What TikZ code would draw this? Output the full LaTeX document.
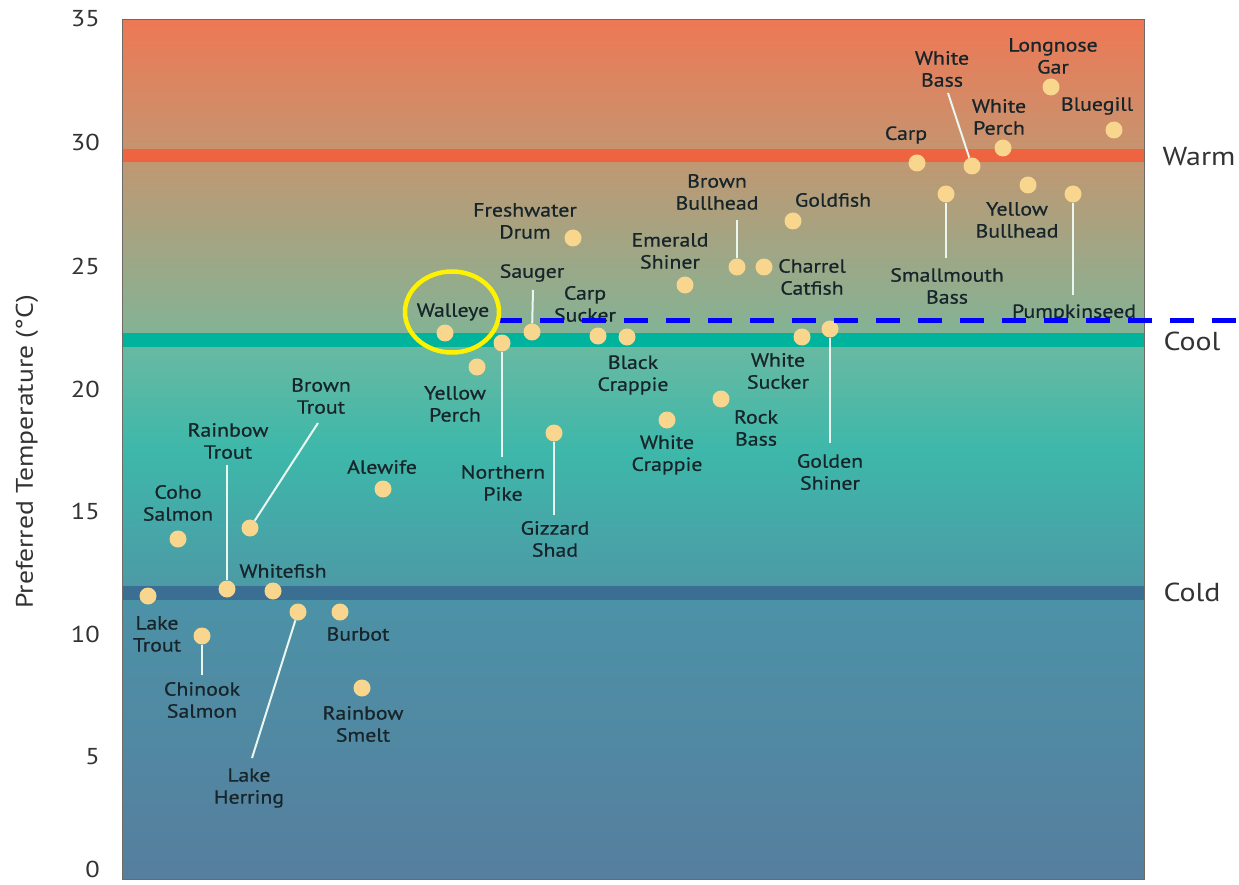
\documentclass[tikz,border=0pt]{standalone}
\usepackage{fontspec}
\usetikzlibrary{shapes.geometric}
\setmainfont{PT Sans}
\newfontfamily\ptwide[FakeStretch=1.15]{PT Sans}
\newfontfamily\ptwidebold[FakeStretch=1.15,FakeBold=0.7]{PT Sans}
\newcommand\mylabfont{\ptwidebold\fontsize{19}{22}\selectfont}
\newcommand\mytickfont{\ptwide\fontsize{23}{26}\selectfont}
\newcommand\myzonefont{\ptwide\fontsize{26}{30}\selectfont}
\newcommand\myaxfont{\ptwide\fontsize{24}{27}\selectfont}
\definecolor{gTop}{HTML}{EE7855}
\definecolor{gW1}{HTML}{C6946F}
\definecolor{warmband}{HTML}{EE6340}
\definecolor{gW2}{HTML}{BF9873}
\definecolor{gC1}{HTML}{83B395}
\definecolor{coolband}{HTML}{00B39C}
\definecolor{gC2}{HTML}{68B9A2}
\definecolor{gC3}{HTML}{3DB8AA}
\definecolor{gC4}{HTML}{4D9AA6}
\definecolor{coldband}{HTML}{3A6F93}
\definecolor{gD1}{HTML}{4C92A7}
\definecolor{gD2}{HTML}{567E9D}
\definecolor{dotcol}{HTML}{F8D68E}
\definecolor{labcol}{HTML}{17252A}
\definecolor{axcol}{HTML}{333333}
\definecolor{leadcol}{HTML}{EAF6F0}
\definecolor{framecol}{HTML}{6E6A66}
\definecolor{ringcol}{HTML}{FFF200}
\definecolor{dashcol}{HTML}{0000FF}
\tikzset{
  dot/.style={circle, fill=dotcol, minimum size=17pt, inner sep=0pt},
  lab/.style={font=\mylabfont, text=labcol, align=center, inner sep=0pt},
  leader/.style={draw=leadcol, line width=2pt},
  ticklab/.style={font=\mytickfont, text=axcol, anchor=east, inner sep=0pt},
  zonelab/.style={font=\myzonefont, text=axcol, inner sep=0pt},
  band/.style={fill=#1},
  ring/.style={ellipse, draw=ringcol, line width=4.5pt, minimum width=94pt, minimum height=81pt, inner sep=0pt},
  bluedash/.style={draw=dashcol, line width=4.5pt, dash pattern=on 24pt off 18pt}
}
\begin{document}
\begin{tikzpicture}[x=1pt,y=-1pt]
\useasboundingbox (0,0) rectangle (1239,885);
\fill[white] (0,0) rectangle (1239,885);
% background gradient
\fill[top color=gTop, bottom color=gW1] (122,20) rectangle (1144,149.5);
\fill[band=warmband] (122,149) rectangle (1144,163);
\fill[top color=gW2, bottom color=gC1] (122,162.5) rectangle (1144,333.5);
\fill[band=coolband] (122,333) rectangle (1144,348);
\fill[top color=gC2, bottom color=gC3] (122,347.5) rectangle (1144,450.5);
\fill[top color=gC3, bottom color=gC4] (122,450) rectangle (1144,586.5);
\fill[band=coldband] (122,586) rectangle (1144,601);
\fill[top color=gD1, bottom color=gD2] (122,600.5) rectangle (1144,879);
\draw[framecol, line width=1pt] (122,20) rectangle (1144,879);
% axis tick labels
\node[ticklab] (t35) at (100,19) {35};
\node[ticklab] (t30) at (100,142) {30};
\node[ticklab] (t25) at (100,266) {25};
\node[ticklab] (t20) at (100,389) {20};
\node[ticklab] (t15) at (100,511) {15};
\node[ticklab] (t10) at (100,634) {10};
\node[ticklab] (t5) at (100,757) {5};
\node[ticklab] (t0) at (100,869) {0};
\node[font=\myaxfont, text=axcol, rotate=90, inner sep=0pt] (ylab) at (27,452) {Preferred Temperature (°C)};
% zone labels
\node[zonelab] (zwarm) at (1199,157) {Warm};
\node[zonelab] (zcool) at (1192,341) {Cool};
\node[zonelab] (zcold) at (1192,592) {Cold};
% dashed marker line
\coordinate (dashA) at (498,320.5);
\coordinate (dashB) at (1239,320.5);
% dots
\node[dot] (laketrout) at (148,596) {};
\node[dot] (coho) at (178,539) {};
\node[dot] (chinook) at (202,636) {};
\node[dot] (rainbowtrout) at (227,589) {};
\node[dot] (browntrout) at (250,528) {};
\node[dot] (whitefish) at (273,591) {};
\node[dot] (lakeherring) at (298,612) {};
\node[dot] (burbot) at (340,612) {};
\node[dot] (smelt) at (362,688) {};
\node[dot] (alewife) at (383,489) {};
\node[dot] (walleye) at (445,333) {};
\node[dot] (yperch) at (477,367) {};
\node[dot] (npike) at (502,343) {};
\node[dot] (sauger) at (532,332) {};
\node[dot] (drum) at (573,238) {};
\node[dot] (gizzard) at (554,433) {};
\node[dot] (carpsucker) at (598,336) {};
\node[dot] (bcrappie) at (627,337) {};
\node[dot] (wcrappie) at (667,420) {};
\node[dot] (eshiner) at (685,285) {};
\node[dot] (rockbass) at (721,399) {};
\node[dot] (bbullhead) at (737,267) {};
\node[dot] (catfish) at (764,267) {};
\node[dot] (goldfish) at (793,221) {};
\node[dot] (wsucker) at (802,337) {};
\node[dot] (gshiner) at (830,329) {};
\node[dot] (carp) at (917,163) {};
\node[dot] (wbass) at (972,166) {};
\node[dot] (smbass) at (946,194) {};
\node[dot] (wperch) at (1003,148) {};
\node[dot] (ybullhead) at (1028,185) {};
\node[dot] (gar) at (1051,87) {};
\node[dot] (bluegill) at (1114,130) {};
\node[dot] (pumpkin) at (1073,194) {};
% leader ends
\coordinate (e-chinook) at (202,675);
\coordinate (e-rainbowtrout) at (227,465);
\coordinate (e-browntrout) at (318,423);
\coordinate (e-lakeherring) at (252,758);
\coordinate (e-npike) at (502,457);
\coordinate (e-sauger) at (533,290);
\coordinate (e-gizzard) at (554,515);
\coordinate (e-bbullhead) at (737,220);
\coordinate (e-gshiner) at (830,443);
\coordinate (e-wbass) at (948,93);
\coordinate (e-smbass) at (946,258);
\coordinate (e-pumpkin) at (1073,295);
\draw[leader] (chinook) -- (e-chinook);
\draw[leader] (rainbowtrout) -- (e-rainbowtrout);
\draw[leader] (browntrout) -- (e-browntrout);
\draw[leader] (lakeherring) -- (e-lakeherring);
\draw[leader] (npike) -- (e-npike);
\draw[leader] (sauger) -- (e-sauger);
\draw[leader] (gizzard) -- (e-gizzard);
\draw[leader] (bbullhead) -- (e-bbullhead);
\draw[leader] (gshiner) -- (e-gshiner);
\draw[leader] (wbass) -- (e-wbass);
\draw[leader] (smbass) -- (e-smbass);
\draw[leader] (pumpkin) -- (e-pumpkin);
% labels
\node[lab] (l-laketrout) at (157,634) {Lake\\Trout};
\node[lab] (l-coho) at (178,503) {Coho\\Salmon};
\node[lab] (l-chinook) at (202,700) {Chinook\\Salmon};
\node[lab] (l-rainbowtrout) at (228,441) {Rainbow\\Trout};
\node[lab] (l-browntrout) at (321,396) {Brown\\Trout};
\node[lab] (l-whitefish) at (283,571) {Whitefish};
\node[lab] (l-lakeherring) at (249,788) {Lake\\Herring};
\node[lab] (l-burbot) at (358,634) {Burbot};
\node[lab] (l-smelt) at (363,724) {Rainbow\\Smelt};
\node[lab] (l-alewife) at (382,467) {Alewife};
\node[lab] (l-walleye) at (453,312) {Walleye};
\node[lab] (l-yperch) at (455,404) {Yellow\\Perch};
\node[lab] (l-npike) at (503,483) {Northern\\Pike};
\node[lab] (l-sauger) at (532,273) {Sauger};
\node[lab] (l-drum) at (525,221) {Freshwater\\Drum};
\node[lab] (l-gizzard) at (555,539) {Gizzard\\Shad};
\node[lab] (l-carpsucker) at (585,304) {Carp\\Sucker};
\node[lab] (l-bcrappie) at (633,375) {Black\\Crappie};
\node[lab] (l-wcrappie) at (667,455) {White\\Crappie};
\node[lab] (l-eshiner) at (670,251) {Emerald\\Shiner};
\node[lab] (l-rockbass) at (756,428) {Rock\\Bass};
\node[lab] (l-bbullhead) at (717,192) {Brown\\Bullhead};
\node[lab] (l-catfish) at (812,277) {Charrel\\Catfish};
\node[lab] (l-goldfish) at (833,200) {Goldfish};
\node[lab] (l-wsucker) at (778,371) {White\\Sucker};
\node[lab] (l-gshiner) at (830,472) {Golden\\Shiner};
\node[lab] (l-carp) at (906,135) {Carp};
\node[lab] (l-wbass) at (942,69) {White\\Bass};
\node[lab] (l-smbass) at (947,286) {Smallmouth\\Bass};
\node[lab] (l-wperch) at (999,117) {White\\Perch};
\node[lab] (l-ybullhead) at (1017,220) {Yellow\\Bullhead};
\node[lab] (l-gar) at (1053,56) {Longnose\\Gar};
\node[lab] (l-bluegill) at (1097,106) {Bluegill};
\node[lab] (l-pumpkin) at (1074,313) {Pumpkinseed};
% annotations
\draw[bluedash] (dashA) -- (dashB);
\node[ring] (walleyering) at (452,312) {};
\end{tikzpicture}
\end{document}
